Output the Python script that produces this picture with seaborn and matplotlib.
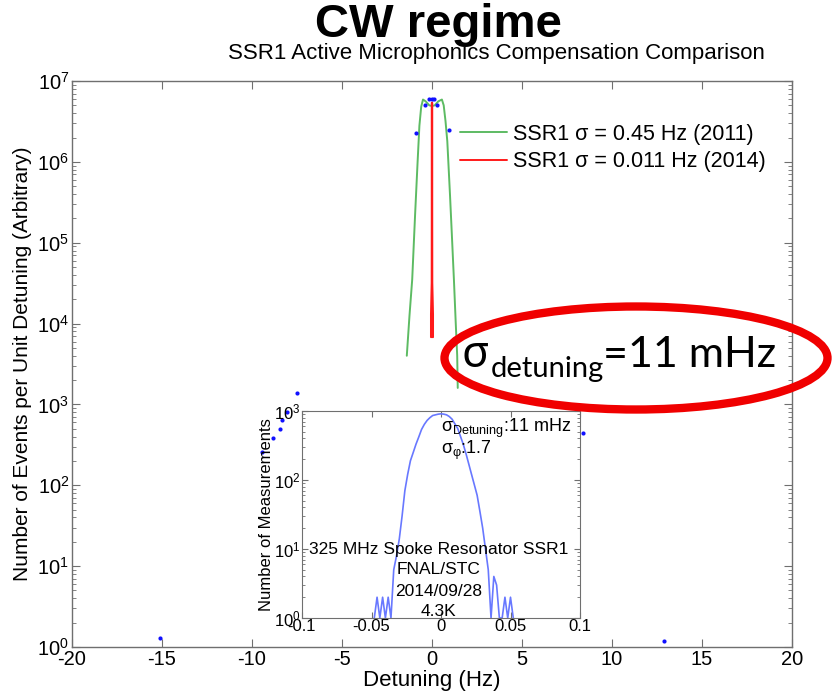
import matplotlib
matplotlib.use("Agg")
import matplotlib.pyplot as plt
import seaborn as sns
import pandas as pd
from matplotlib.patches import Ellipse
from matplotlib.ticker import LogLocator, NullFormatter, FixedLocator, FixedFormatter

# ---- 2011 measurement, sigma = 0.45 Hz (green) ----
fit2011_hz = [-1.40, -1.25, -1.10, -0.94, -0.80, -0.70, -0.60, -0.50, -0.35, -0.15, 0.00,
              0.15, 0.35, 0.55, 0.65, 0.75, 0.85, 1.00, 1.10, 1.22, 1.32, 1.40, 1.43]
fit2011_val = [4.0e3, 1.26e4, 3.5e4, 2.2e5, 1.0e6, 2.8e6, 4.8e6, 5.9e6, 5.6e6, 5.0e6, 4.9e6,
               5.0e6, 5.6e6, 5.9e6, 5.0e6, 3.2e6, 1.8e6, 3.9e5, 1.3e5, 3.4e4, 1.0e4, 4.0e3, 1.6e3]

# ---- 2014 measurement, sigma = 0.011 Hz (red) ----
fit2014_hz = [-0.05, -0.05, -0.01, 0.00, 0.01, 0.05, 0.05]
fit2014_val = [6.8e3, 1.3e4, 3.2e4, 5.4e6, 3.2e4, 1.3e4, 6.8e3]

# ---- measured events (blue dots) ----
events_hz = [-15.1, -9.46, -8.82, -8.44, -8.35, -8.04, -7.48, -0.89, -0.39, -0.15,
             -0.02, 0.11, 0.30, 0.93, 8.37, 12.9]
events_val = [1.3, 260, 380, 490, 650, 800, 1400, 2.3e6, 5.1e6, 6.0e6,
              6.0e6, 6.0e6, 5.1e6, 2.5e6, 440, 1.2]

# ---- inset histogram, 2014/09/28 ----
hist_hz = [-0.048, -0.046, -0.044, -0.042, -0.040, -0.038, -0.036, -0.034, -0.032, -0.030,
           -0.028, -0.026, -0.024, -0.022, -0.020, -0.018, -0.016, -0.014, -0.012, -0.010,
           -0.008, -0.006, -0.004, -0.002, 0.000, 0.002, 0.004, 0.006, 0.008, 0.010,
           0.012, 0.014, 0.016, 0.018, 0.020, 0.022, 0.024, 0.026, 0.028, 0.030,
           0.032, 0.034, 0.036, 0.038, 0.040, 0.042, 0.044, 0.046, 0.048, 0.050, 0.052]
hist_cnt = [1, 2, 1, 2, 1, 2, 1, 5, 8, 14,
            30, 70, 120, 190, 250, 330, 420, 540, 640, 730,
            800, 860, 880, 900, 910, 900, 880, 830, 760, 650,
            560, 430, 330, 240, 170, 120, 85, 60, 35, 20,
            10, 5, 1, 4, 3, 1, 1, 2, 1, 2, 1]

main_xticks = [-20, -15, -10, -5, 0, 5, 10, 15, 20]
inset_xticks = [-0.1, -0.05, 0, 0.05, 0.1]
inset_xticklabels = ["-0.1", "-0.05", "0", "0.05", "0.1"]
legend_labels = ["SSR1 \u03c3 = 0.45 Hz (2011)", "SSR1 \u03c3 = 0.011 Hz (2014)"]

sns.set_style("ticks")
plt.rcParams["font.family"] = ["Liberation Sans", "DejaVu Sans"]
plt.rcParams["mathtext.fontset"] = "custom"
plt.rcParams["mathtext.rm"] = "Liberation Sans"
plt.rcParams["mathtext.it"] = "Liberation Sans:italic"
plt.rcParams["mathtext.bf"] = "Liberation Sans:bold"
plt.rcParams["axes.unicode_minus"] = False
for key in ["text.color", "axes.labelcolor", "xtick.labelcolor", "ytick.labelcolor"]:
    plt.rcParams[key] = "black"

AXC = "#6f6f6f"
W, H = 834, 691

fig = plt.figure(figsize=(W / 100, H / 100), dpi=100)
ax = fig.add_axes([72 / W, 1 - 647 / H, 720 / W, 566 / H])

df11 = pd.DataFrame({"hz": fit2011_hz, "val": fit2011_val})
df14 = pd.DataFrame({"hz": fit2014_hz, "val": fit2014_val})
dfev = pd.DataFrame({"hz": events_hz, "val": events_val})

sns.lineplot(data=df11, x="hz", y="val", ax=ax, color="#5dbb63", lw=1.4,
             estimator=None, sort=False, label=legend_labels[0])
sns.lineplot(data=df14, x="hz", y="val", ax=ax, color="#ff1a1a", lw=1.6,
             estimator=None, sort=False, label=legend_labels[1])
sns.scatterplot(data=dfev, x="hz", y="val", ax=ax, color="#1010ff", s=9,
                linewidth=0, zorder=5)

ax.set_yscale("log")
ax.set_xlim(-20, 20)
ax.set_ylim(1, 1e7)
ax.set_xticks(main_xticks)
ax.yaxis.set_major_locator(LogLocator(base=10, numticks=10))
ax.yaxis.set_minor_locator(LogLocator(base=10, subs=range(2, 10), numticks=100))
ax.yaxis.set_minor_formatter(NullFormatter())
ax.tick_params(which="both", direction="in", top=True, right=True, color=AXC,
               labelcolor="black", labelsize=14.5, pad=2)
ax.tick_params(which="major", length=6)
ax.tick_params(which="minor", length=3)
for sp in ax.spines.values():
    sp.set_color(AXC)
    sp.set_linewidth(1.0)
ax.set_xlabel("Detuning (Hz)", fontsize=16, labelpad=1)
ax.set_ylabel("Number of Events per Unit Detuning (Arbitrary)", fontsize=15, labelpad=4)

leg = ax.legend(loc="upper left", bbox_to_anchor=(460 / W, 1 - 124 / H),
                bbox_transform=fig.transFigure, frameon=False, fontsize=15.5,
                handlelength=2.2, handletextpad=0.25, labelspacing=0.3,
                borderpad=0, borderaxespad=0)
for line in leg.get_lines():
    line.set_linewidth(1.4)

# ---- inset ----
axin = fig.add_axes([302 / W, 1 - 618 / H, 278 / W, 207 / H])
axin.set_zorder(3)
axin.set_facecolor("white")
dfh = pd.DataFrame({"hz": hist_hz, "cnt": hist_cnt})
sns.lineplot(data=dfh, x="hz", y="cnt", ax=axin, color="#6878ff", lw=1.2,
             estimator=None, sort=False)
axin.set_yscale("log")
axin.set_xlim(-0.1, 0.1)
axin.set_ylim(1, 1e3)
axin.xaxis.set_major_locator(FixedLocator(inset_xticks))
axin.xaxis.set_major_formatter(FixedFormatter(inset_xticklabels))
axin.yaxis.set_major_locator(LogLocator(base=10, numticks=10))
axin.yaxis.set_minor_locator(LogLocator(base=10, subs=range(2, 10), numticks=100))
axin.yaxis.set_minor_formatter(NullFormatter())
axin.tick_params(which="both", direction="in", top=True, right=True, color=AXC,
                 labelcolor="black", labelsize=12, pad=1)
axin.tick_params(which="major", length=4)
axin.tick_params(which="minor", length=2)
for sp in axin.spines.values():
    sp.set_color(AXC)
axin.set_xlabel("")
axin.set_ylabel("Number of Measurements", fontsize=12, labelpad=0)

axin.text(0.0, 10 ** 2.75, "\u03c3$_{\\mathrm{Detuning}}$:11 mHz", fontsize=13,
          ha="left", va="center")
axin.text(0.0, 10 ** 2.43, "\u03c3$_{\\mathrm{\u03c6}}$:1.7", fontsize=13,
          ha="left", va="center")
for txt, ly in [("325 MHz Spoke Resonator SSR1", 10 ** 0.99), ("FNAL/STC", 10 ** 0.70),
                ("2014/09/28", 10 ** 0.39), ("4.3K", 10 ** 0.10)]:
    axin.text(-0.002, ly, txt, fontsize=12.5, ha="center", va="center")

# ---- titles ----
fig.text(438 / W, 1 - 37 / H, "CW regime", fontsize=34, fontweight="bold",
         ha="center", va="baseline")
fig.text(496 / W, 1 - 59 / H, "SSR1 Active Microphonics Compensation Comparison",
         fontsize=16, ha="center", va="baseline")

# ---- highlighted result ----
fig.patches.append(Ellipse((636 / W, 1 - 358 / H), 383 / W, 103 / H,
                           transform=fig.transFigure, fill=False,
                           edgecolor="#f00000", linewidth=6, zorder=10))
fig.text(462 / W, 1 - 367 / H, "\u03c3", fontsize=32, family=["Noto Sans", "DejaVu Sans"],
         ha="left", va="baseline", zorder=11)
fig.text(491 / W, 1 - 377 / H, "detuning", fontsize=21, family=["Lato", "Noto Sans"],
         ha="left", va="baseline", zorder=11)
fig.text(603 / W, 1 - 367 / H, "=11 mHz", fontsize=31, family=["Lato", "Noto Sans"],
         ha="left", va="baseline", zorder=11)

fig.savefig("out.png", dpi=100)
